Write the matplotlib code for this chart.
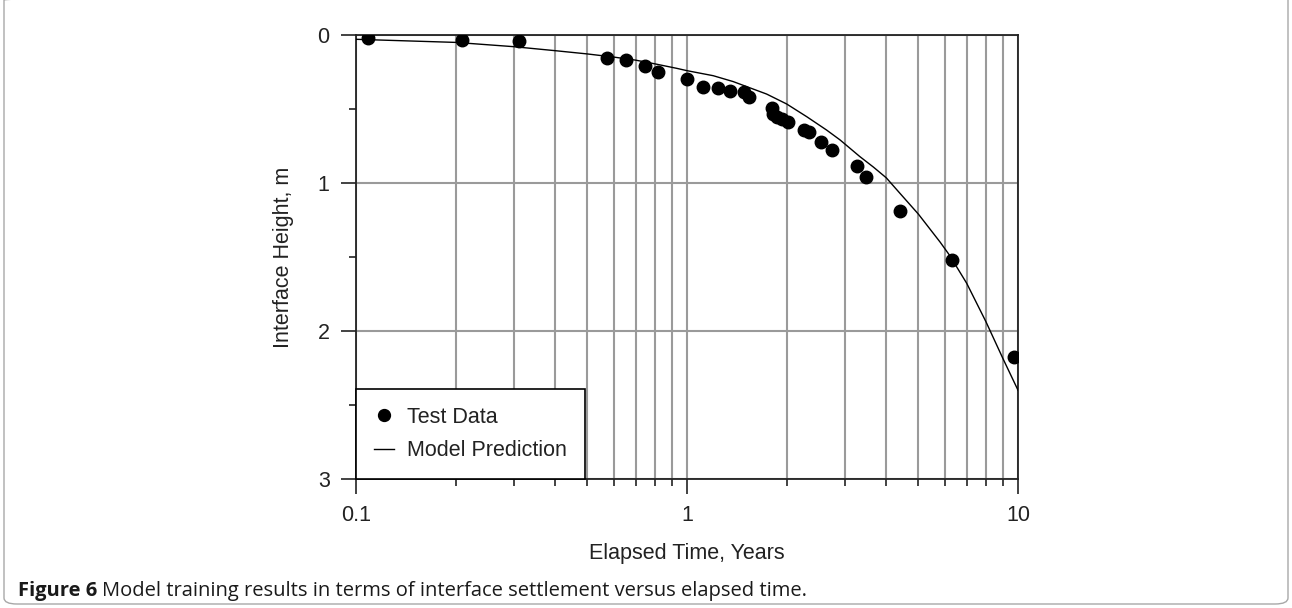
import matplotlib
matplotlib.use("Agg")
import matplotlib.pyplot as plt
from matplotlib.patches import FancyBboxPatch
from matplotlib.ticker import LogLocator, FixedLocator, NullFormatter, FixedFormatter

plt.rcParams['font.family'] = ['Liberation Sans', 'DejaVu Sans']

# Test data
test_time = [0.1087, 0.2086, 0.310, 0.572, 0.653, 0.748, 0.817, 1.0, 1.12, 1.243,
             1.349, 1.487, 1.543, 1.803, 1.825, 1.867, 1.93, 2.015, 2.257, 2.34,
             2.54, 2.735, 3.27, 3.465, 4.40, 6.30, 9.73]
test_height = [0.022, 0.034, 0.043, 0.157, 0.169, 0.207, 0.252, 0.30, 0.349, 0.36,
               0.378, 0.387, 0.417, 0.491, 0.536, 0.552, 0.568, 0.586, 0.642, 0.653,
               0.721, 0.777, 0.883, 0.957, 1.189, 1.52, 2.178]

# Model prediction
model_time = [0.1, 0.2, 0.3, 0.4, 0.5, 0.6, 0.7, 0.8, 0.93, 1.0, 1.2, 1.38, 1.515,
              1.74, 2.0, 2.3, 2.64, 2.9, 3.33, 3.66, 4.0, 4.4, 5.0, 5.82, 6.22,
              7.0, 8.0, 9.0, 10.0]
model_height = [0.029, 0.05, 0.079, 0.106, 0.128, 0.149, 0.17, 0.195, 0.225, 0.241,
                0.275, 0.315, 0.349, 0.399, 0.466, 0.552, 0.642, 0.709, 0.822, 0.893,
                0.965, 1.07, 1.21, 1.40, 1.49, 1.678, 1.937, 2.185, 2.40]

x_ticks = [0.1, 1, 10]
x_tick_labels = ["0.1", "1", "10"]
y_ticks = [0, 1, 2, 3]
y_tick_labels = ["0", "1", "2", "3"]

FS = 15.5

fig = plt.figure(figsize=(12.92, 6.08), dpi=100)
ax = fig.add_axes([356/1292, 1 - 479/608, (1018-356)/1292, (479-35)/608])

ax.set_xscale('log')
ax.set_xlim(0.1, 10)
ax.set_ylim(3, 0)

ax.plot(model_time, model_height, color='black', lw=1.0, label='Model Prediction', zorder=3)
ax.plot(test_time, test_height, 'o', color='black', ms=9, label='Test Data', zorder=4)

ax.xaxis.set_major_locator(FixedLocator(x_ticks))
ax.xaxis.set_major_formatter(FixedFormatter(x_tick_labels))
ax.xaxis.set_minor_locator(LogLocator(base=10, subs=range(2, 10)))
ax.xaxis.set_minor_formatter(NullFormatter())
ax.yaxis.set_major_locator(FixedLocator(y_ticks))
ax.yaxis.set_major_formatter(FixedFormatter(y_tick_labels))
ax.yaxis.set_minor_locator(FixedLocator([0.5, 1.5, 2.5]))

ax.grid(True, which='both', axis='x', color='#9a9a9a', lw=1.5)
ax.grid(True, which='major', axis='y', color='#9a9a9a', lw=1.5)
ax.set_axisbelow(True)

ax.tick_params(which='major', direction='out', length=10.5, width=1.2, labelsize=FS,
               pad=8.5, colors='#222222')
ax.tick_params(which='minor', direction='out', length=5, width=1.2, colors='#222222')
for s in ax.spines.values():
    s.set_linewidth(1.3)
    s.set_color('#222222')

ax.set_xlabel('Elapsed Time, Years', fontsize=FS, labelpad=12, color='#222222')
ax.set_ylabel('Interface Height, m', fontsize=FS, labelpad=17, color='#222222')

handles, labels = ax.get_legend_handles_labels()
leg = ax.legend(handles[::-1], labels[::-1], loc='lower left', bbox_to_anchor=(0, 0),
                borderaxespad=0, fontsize=FS, fancybox=False, frameon=True,
                handlelength=0.95, handletextpad=0.6, borderpad=0.82, labelspacing=0.58,
                markerscale=0.95)
leg.get_frame().set_edgecolor('black')
leg.get_frame().set_linewidth(1.2)
leg.get_frame().set_alpha(1)
for t in leg.get_texts():
    t.set_color('#222222')

# Figure border
border = FancyBboxPatch((4/1292, 4/608), 1284/1292, 610/608,
                        boxstyle='round,pad=0,rounding_size=0.01',
                        transform=fig.transFigure, fill=False,
                        edgecolor='#a8a8a8', lw=1.0)
fig.patches.append(border)

cap_family = ['Open Sans', 'DejaVu Sans']
y_cap = 1 - 596/608
t1 = fig.text(18/1292, y_cap, 'Figure 6', fontsize=14.5, fontweight='bold',
              family=cap_family, va='baseline', color='#1a1a1a')
fig.canvas.draw()
bb = t1.get_window_extent(renderer=fig.canvas.get_renderer())
x2 = (bb.x1 + 5) / fig.bbox.width
fig.text(x2, y_cap, 'Model training results in terms of interface settlement versus elapsed time.',
         fontsize=14.5, family=cap_family, va='baseline', color='#1a1a1a')

fig.savefig('out.png', dpi=100)
